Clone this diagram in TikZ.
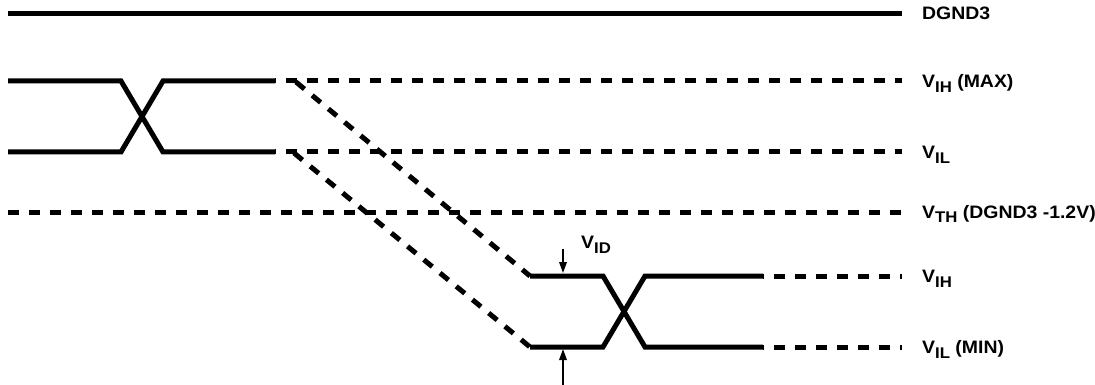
\documentclass[tikz,border=0pt]{standalone}
\usepackage{fontspec}
\setmainfont{Liberation Sans}[FakeStretch=1.08]
\usetikzlibrary{arrows.meta}
\newcommand{\sbs}[1]{\raisebox{-5pt}{\fontsize{15.5}{15.5}\selectfont #1}}
\begin{document}
\begin{tikzpicture}[x=1pt,y=-1pt,
 sig/.style={line width=5pt},
 dsig/.style={line width=5pt, dash pattern=on 11pt off 10pt},
 lbl/.style={anchor=base west, inner sep=0pt, font=\bfseries\fontsize{18}{18}\selectfont},
 meas/.style={line width=1.8pt, -{Triangle[length=11pt,width=7.5pt]}}]
\useasboundingbox (0,0) rectangle (1095,385);
% DGND3 rail
\coordinate (g0) at (8,13.5); \coordinate (g1) at (902,13.5);
\draw[sig] (g0) -- (g1);
% left transition
\coordinate (la1) at (8,81);  \coordinate (la2) at (121,81);
\coordinate (la3) at (163,152); \coordinate (la4) at (275,152);
\coordinate (lb1) at (8,152); \coordinate (lb2) at (121,152);
\coordinate (lb3) at (163,81); \coordinate (lb4) at (275,81);
\draw[sig] (la1) -- (la2) -- (la3) -- (la4);
\draw[sig] (lb1) -- (lb2) -- (lb3) -- (lb4);
% dashed levels
\coordinate (ihmax) at (902,81); \coordinate (il) at (902,152);
\coordinate (th0) at (8,212); \coordinate (th1) at (902,212);
\draw[dsig, dash phase=10pt] (lb4) -- (ihmax);
\draw[dsig, dash phase=10pt] (la4) -- (il);
\draw[dsig] (th0) -- (th1);
% diagonals
\coordinate (d1s) at (296,82); \coordinate (d2s) at (294,153);
\coordinate (ra1) at (530,276); \coordinate (rb1) at (530,347);
\draw[dsig] (d1s) -- (ra1);
\draw[dsig] (d2s) -- (rb1);
% right transition
\coordinate (ra2) at (603,276); \coordinate (ra3) at (645,347); \coordinate (ra4) at (763,347);
\coordinate (rb2) at (603,347); \coordinate (rb3) at (645,276); \coordinate (rb4) at (763,276);
\draw[sig] (ra1) -- (ra2) -- (ra3) -- (ra4);
\draw[sig] (rb1) -- (rb2) -- (rb3) -- (rb4);
\coordinate (ih) at (902,276); \coordinate (ilmin) at (902,347);
\draw[dsig, dash phase=10pt] (rb4) -- (ih);
\draw[dsig, dash phase=10pt] (ra4) -- (ilmin);
% V_ID arrows
\coordinate (u0) at (563,249); \coordinate (u1) at (563,273);
\coordinate (w0) at (563,385); \coordinate (w1) at (563,349);
\draw[meas] (u0) -- (u1);
\draw[meas] (w0) -- (w1);
% labels
\node[lbl] (tg) at (922,19.5) {DGND3};
\node[lbl] (tihmax) at (922,87.5) {V\sbs{IH} (MAX)};
\node[lbl] (til) at (922,158.5) {V\sbs{IL}};
\node[lbl] (tth) at (922,218) {V\sbs{TH} (DGND3 -1.2V)};
\node[lbl] (tih) at (922,282.5) {V\sbs{IH}};
\node[lbl] (tilmin) at (922,353.5) {V\sbs{IL} (MIN)};
\node[lbl] (tid) at (581,248) {V\sbs{ID}};
\end{tikzpicture}
\end{document}
